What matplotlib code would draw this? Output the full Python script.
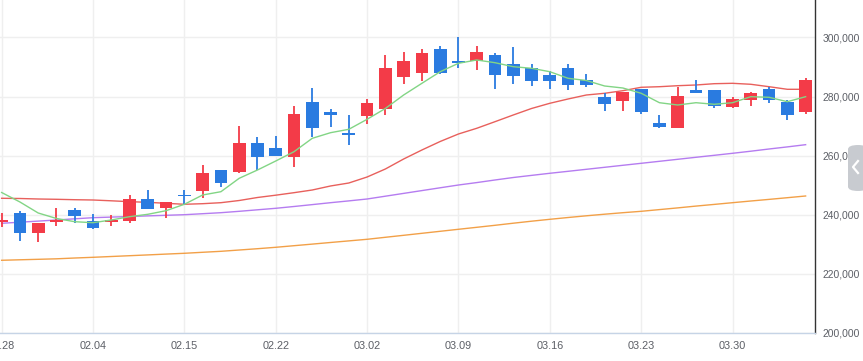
import matplotlib
matplotlib.use("Agg")
import matplotlib.pyplot as plt
from matplotlib.patches import FancyBboxPatch
from matplotlib.lines import Line2D
from matplotlib.ticker import FuncFormatter

# daily candles, 2021-01-28 .. 2021-04-05
dates = ["01.28", "01.29", "02.01", "02.02", "02.03", "02.04", "02.05", "02.08", "02.09", "02.10",
         "02.15", "02.16", "02.17", "02.18", "02.19", "02.22", "02.23", "02.24", "02.25", "02.26",
         "03.02", "03.03", "03.04", "03.05", "03.08", "03.09", "03.10", "03.11", "03.12", "03.15",
         "03.16", "03.17", "03.18", "03.19", "03.22", "03.23", "03.24", "03.25", "03.26", "03.29",
         "03.30", "03.31", "04.01", "04.02", "04.05"]

opens = [237630, 240580, 233700, 237630, 241600, 237870, 237630, 237970, 245320, 242380,
         246500, 248140, 255150, 254580, 264310, 262610, 259660, 278100, 274820, 267700,
         273560, 275830, 286450, 288140, 296170, 291900, 291870, 294140, 291090, 289500,
         287460, 289730, 285560, 279900, 278650, 282610, 271090, 269500, 282280, 282280,
         276610, 278990, 282610, 278210, 274920]
highs = [240680, 241360, 237300, 242270, 242270, 240240, 239800, 246680, 248380, 244310,
         248380, 256850, 255150, 270170, 266340, 266680, 276850, 283000, 275830, 273800,
         279220, 294140, 295160, 296180, 297200, 300250, 297190, 294820, 296850, 291090,
         288480, 291090, 287800, 281360, 281600, 282610, 273800, 283390, 285660, 282280,
         279900, 281600, 283290, 278890, 286340]
lows = [235930, 231190, 230850, 236270, 237290, 235150, 236270, 237290, 242040, 238990,
        243290, 245560, 249490, 254240, 255260, 260000, 256270, 266340, 269830, 263630,
        270850, 273800, 284410, 285430, 287600, 289500, 288820, 282720, 284410, 283730,
        282720, 282380, 283390, 275260, 275260, 274240, 269500, 269500, 281360, 276280,
        276280, 276950, 277970, 272200, 274240]
closes = [238300, 233700, 237190, 238200, 239660, 235600, 238200, 245320, 242040, 244310,
          246200, 254140, 250850, 264310, 259660, 260000, 274140, 269500, 273900, 267120,
          277870, 289730, 292110, 294820, 288140, 291500, 295160, 287460, 287120, 285430,
          285430, 284070, 284070, 277630, 281600, 274920, 269830, 280240, 281360, 276950,
          279220, 281260, 278990, 273900, 285660]

ma5 = [247490, 244280, 240550, 238690, 237600, 237260, 238180, 239300, 240110, 241330,
       243500, 246650, 247760, 252300, 255110, 258160, 261310, 265850, 267750, 268900,
       272290, 275950, 280520, 284480, 288410, 291260, 292380, 291460, 290110, 289570,
       288410, 286180, 285430, 283570, 282890, 281100, 277910, 277130, 277910, 277370,
       277910, 279950, 279740, 278250, 279950]
ma20 = [245530, 245460, 245290, 245190, 245050, 244950, 244680, 244380, 244170, 243830,
        243500, 243700, 244040, 244780, 245800, 246580, 247430, 248340, 249700, 250710,
        252740, 255450, 258840, 261890, 264770, 267310, 269240, 271480, 273750, 275950,
        277710, 279170, 280520, 281100, 281980, 283130, 283330, 283670, 283910, 284350,
        284480, 284150, 283330, 282450, 282450]
ma60 = [237060, 237430, 237800, 238180, 238580, 238960, 239160, 239360, 239570, 239770,
        239970, 240310, 240650, 241120, 241630, 242140, 242750, 243390, 244040, 244650,
        245290, 246240, 247190, 248140, 249090, 250030, 250850, 251730, 252570, 253290,
        254000, 254670, 255350, 256030, 256710, 257380, 258060, 258740, 259420, 260090,
        260770, 261480, 262230, 262940, 263690]
ma120 = [224530, 224700, 224860, 225030, 225300, 225540, 225810, 226080, 226350, 226630,
         226900, 227240, 227570, 228010, 228450, 228930, 229470, 230010, 230560, 231100,
         231640, 232320, 232990, 233670, 234350, 235030, 235700, 236380, 237090, 237770,
         238410, 239020, 239600, 240140, 240650, 241120, 241700, 242280, 242890, 243460,
         244040, 244610, 245160, 245730, 246310]

UP = "#f33b48"
DOWN = "#2a7be0"
TXT = "#5c5f66"

plt.rcParams["font.family"] = ["Liberation Sans Narrow", "Liberation Sans", "DejaVu Sans"]

fig = plt.figure(figsize=(8.63, 3.61), dpi=100)
ax = fig.add_axes([0, 28.3 / 361, 815.3 / 863, 1 - 28.3 / 361])

idx = list(range(len(dates)))

# moving averages
ax.plot(idx, ma120, color="#f2a048", lw=1.0, zorder=2)
ax.plot(idx, ma60, color="#b57cf0", lw=1.0, zorder=2)
ax.plot(idx, ma20, color="#e8605c", lw=1.0, zorder=2)
ax.plot(idx, ma5, color="#82d585", lw=1.0, zorder=4)

# candles
for i in idx:
    o, h, l, c = opens[i], highs[i], lows[i], closes[i]
    col = UP if c >= o else DOWN
    ax.vlines(i, l, h, color=col, lw=1.3, zorder=3)
    bottom = min(o, c)
    height = max(abs(c - o), 550)
    ax.bar(i, height, bottom=bottom, width=0.7, color=col, zorder=3)

ax.set_xlim(-0.09, 44.53)
ax.set_ylim(200000, 312700)

ax.set_xticks(idx[::5])
ax.set_xticklabels(dates[::5])
ax.set_yticks(range(200000, 310000, 20000))
ax.yaxis.set_major_formatter(FuncFormatter(lambda v, p: f"{int(v):,}"))
ax.yaxis.tick_right()

ax.grid(True, color="#efefef", lw=1.0, zorder=0)
ax.set_axisbelow(True)
ax.tick_params(axis="both", length=0, colors=TXT)
ax.tick_params(axis="x", pad=6, labelsize=7.8)
ax.tick_params(axis="y", pad=5, labelsize=7.4)
for lab in ax.get_yticklabels():
    lab.set_horizontalalignment("left")

for s in ("top", "left"):
    ax.spines[s].set_visible(False)
ax.spines["right"].set_color("#333333")
ax.spines["right"].set_linewidth(1.0)
ax.spines["bottom"].set_color("#c6d4e6")
ax.spines["bottom"].set_linewidth(1.0)

# collapse tab on the right edge
W, H = 863, 361
tab = FancyBboxPatch((848 / W, (H - 191) / H), 20 / W, 46 / H,
                     boxstyle="round,pad=0,rounding_size=0.012",
                     transform=fig.transFigure, facecolor="#c8cbd0",
                     edgecolor="none", zorder=10)
fig.patches.append(tab)
fig.lines.append(Line2D([858 / W, 853 / W, 858 / W],
                        [(H - 161) / H, (H - 167) / H, (H - 173) / H],
                        transform=fig.transFigure, color="white", lw=1.6, zorder=11))

fig.savefig("out.png", dpi=100)
